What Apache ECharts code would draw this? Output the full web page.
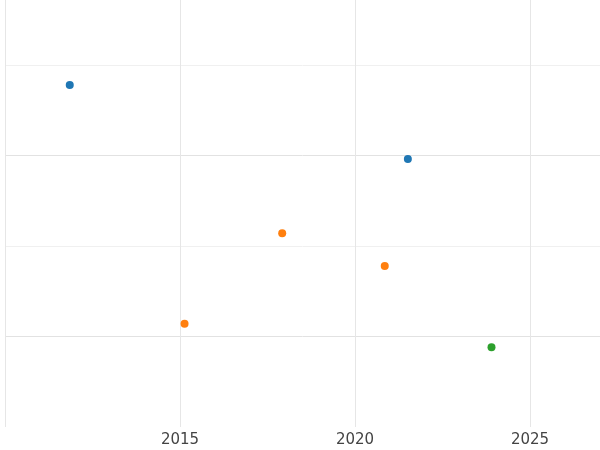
<!DOCTYPE html>
<html><head><meta charset="utf-8">
<script src="https://cdn.jsdelivr.net/npm/echarts@6/dist/echarts.min.js"></script>
<style>html,body{margin:0;padding:0}#c{width:600px;height:450px}</style>
</head><body><div id="c"></div>
<script>
const blueX=[2011.85,2021.51], blueY=[3.78,2.96];
const orangeX=[2017.92,2020.85,2015.13], orangeY=[2.14,1.78,1.14];
const greenX=[2023.9], greenY=[0.88];
const pts=(xs,ys)=>xs.map((x,i)=>[x,ys[i]]);
const chart=echarts.init(document.getElementById('c'));
chart.setOption({
  animation:false,
  grid:{left:5,right:0,top:0,bottom:23,containLabel:false,outerBoundsMode:'none'},
  xAxis:{type:'value',min:2010,max:2027,interval:5,
    axisLine:{show:false},axisTick:{show:false},
    axisLabel:{color:'#444',fontSize:15,fontFamily:'DejaVu Sans',margin:6,showMaxLabel:false,showMinLabel:false,
      formatter:v=>(v===2010||v===2027)?'':String(v)},
    splitLine:{showMaxLine:false,lineStyle:{color:'#e6e6e6',width:1}}},
  yAxis:{type:'value',min:0,max:427/90.5,interval:1,
    axisLine:{show:false},axisTick:{show:false},axisLabel:{show:false},
    splitLine:{lineStyle:{color:['transparent','#e2e2e2','#f0f0f0','#e2e2e2','#f0f0f0']}}},
  series:[
    {type:'scatter',data:pts(blueX,blueY),symbolSize:8,itemStyle:{color:'#1f77b4',opacity:1}},
    {type:'scatter',data:pts(orangeX,orangeY),symbolSize:8,itemStyle:{color:'#ff7f0e',opacity:1}},
    {type:'scatter',data:pts(greenX,greenY),symbolSize:8,itemStyle:{color:'#2ca02c',opacity:1}}
  ]
});
</script></body></html>
